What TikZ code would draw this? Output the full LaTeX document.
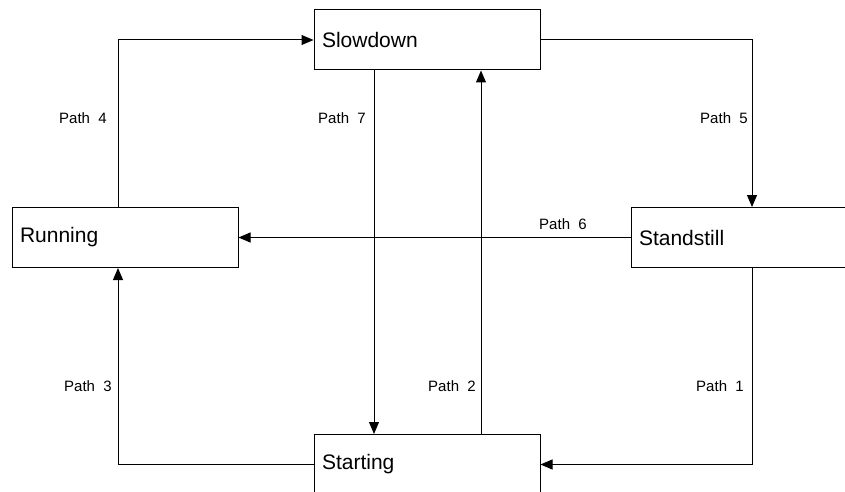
\documentclass[tikz,border=0pt]{standalone}
\usepackage{fontspec}
\setmainfont{Liberation Sans}
\usetikzlibrary{positioning,arrows.meta}
\tikzset{
  state/.style={draw, line width=1pt, minimum width=226pt, minimum height=60pt, text width=210pt, align=left, inner sep=8pt, font=\fontsize{21}{23}\selectfont},
  lbl/.style={font=\fontsize{15}{17}\selectfont, inner sep=0pt},
  arr/.style={-{Triangle[length=12pt,width=10pt]}, line width=1pt},
}
\begin{document}
\begin{tikzpicture}[x=1pt,y=-1pt]
\useasboundingbox (0,0) rectangle (845,492);
\node[state] (slow) at (427,40) {Slowdown};
\node[state] (run) at (125,237.5) {Running};
\node[state] (stand) at (744,237.5) {Standstill};
\node[state] (start) at (427,464.5) {Starting};
\draw[arr] ([xshift=-7pt]run.north) |- (slow.west);
\draw[arr] (slow.east) -| ([xshift=8pt]stand.north);
\draw[arr] (stand.west) -- (run.east);
\draw[arr] ([xshift=-53pt]slow.south) -- ([xshift=-53pt]start.north);
\draw[arr] ([xshift=54pt]start.north) -- ([xshift=54pt]slow.south);
\draw[arr] (start.west) -| ([xshift=-7pt]run.south);
\draw[arr] ([xshift=8pt]stand.south) |- (start.east);
\node[lbl] (p4) at (83,118) {Path\ \ 4};
\node[lbl] (p7) at (342,118) {Path\ \ 7};
\node[lbl] (p5) at (724,118) {Path\ \ 5};
\node[lbl] (p6) at (563,224) {Path\ \ 6};
\node[lbl] (p3) at (88,386) {Path\ \ 3};
\node[lbl] (p2) at (452,386) {Path\ \ 2};
\node[lbl] (p1) at (720,386) {Path\ \ 1};
\end{tikzpicture}
\end{document}
